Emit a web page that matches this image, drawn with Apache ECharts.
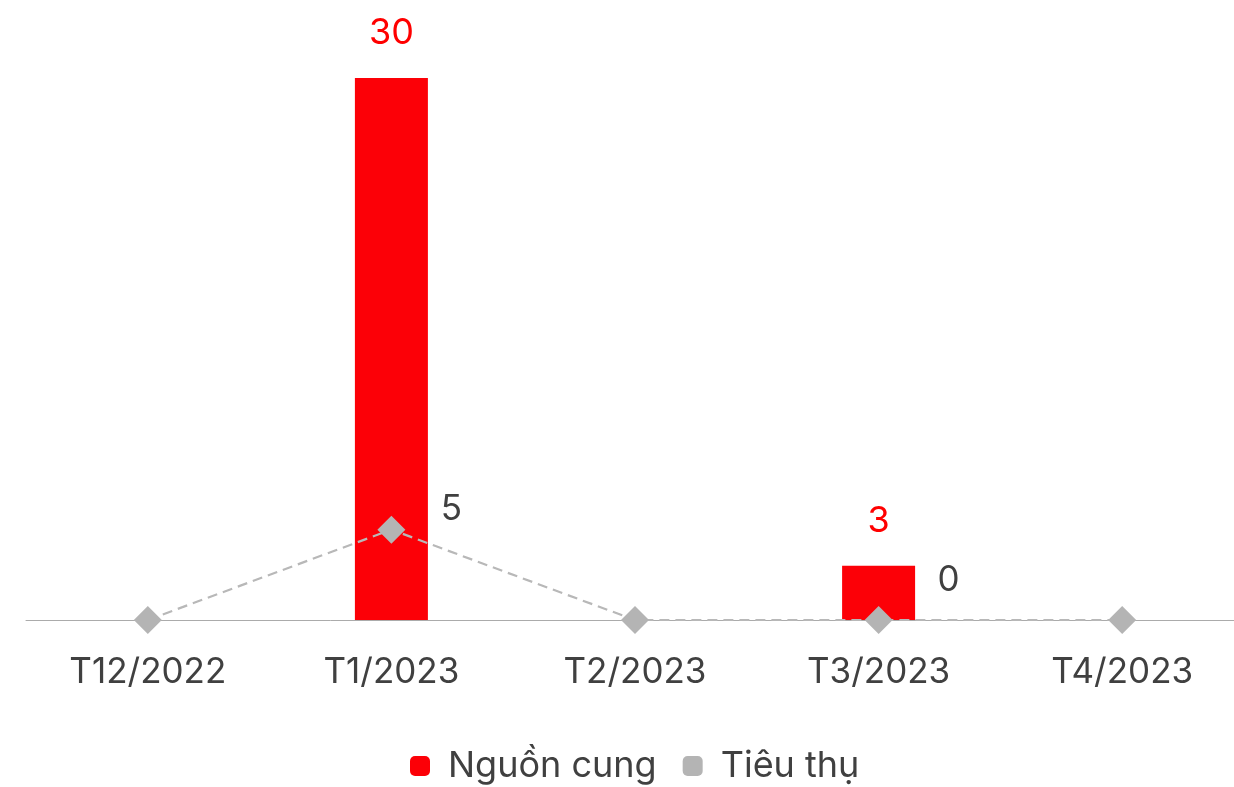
<!DOCTYPE html>
<html>
<head>
<meta charset="utf-8">
<script src="https://cdn.jsdelivr.net/npm/echarts@6/dist/echarts.min.js"></script>
<style>
  html, body { margin: 0; padding: 0; background: #fff; overflow: hidden; }
  #chart { width: 1244px; height: 787px; }
</style>
</head>
<body>
<div id="chart"></div>
<script>
// Monthly supply vs. consumption
const categories = ['T12/2022', 'T1/2023', 'T2/2023', 'T3/2023', 'T4/2023'];
const supply = [0, 30, 0, 3, 0];        // Nguồn cung
const consumption = [0, 5, 0, 0, 0];    // Tiêu thụ
// which points carry a value label
const supplyLabelShown = [false, true, false, true, false];
const consumptionLabelShown = [false, true, false, true, false];
const consumptionLabelOffset = [null, [60, -20], null, [70, -40], null];

const FONT = 'Inter, "Noto Sans", sans-serif';

const chart = echarts.init(document.getElementById('chart'), null, { renderer: 'canvas' });

chart.setOption({
  animation: false,
  textStyle: { fontFamily: FONT },
  grid: { left: 26, right: 0, top: 78, bottom: 167, containLabel: false },
  legend: {
    bottom: -2,
    left: 405,
    itemWidth: 20,
    itemHeight: 20,
    itemGap: 26,
    textStyle: { fontSize: 36, color: '#404040', fontFamily: FONT, padding: [0, 0, 0, 13] },
    data: [
      { name: 'Nguồn cung', icon: 'roundRect' },
      { name: 'Tiêu thụ', icon: 'roundRect' }
    ]
  },
  xAxis: {
    type: 'category',
    data: categories,
    axisLine: { lineStyle: { color: '#ababab', width: 1 } },
    axisTick: { show: false },
    axisLabel: { fontSize: 35, color: '#404040', margin: 35, fontFamily: FONT }
  },
  yAxis: {
    type: 'value',
    min: 0,
    max: 30,
    show: false,
    splitLine: { show: false }
  },
  series: [
    {
      name: 'Nguồn cung',
      type: 'bar',
      barWidth: 73,
      itemStyle: { color: '#fc0007' },
      data: supply.map((v, i) => ({
        value: v,
        label: {
          show: supplyLabelShown[i],
          position: 'top',
          distance: 27,
          fontSize: 36,
          color: '#ff0000',
          fontFamily: FONT
        }
      }))
    },
    {
      name: 'Tiêu thụ',
      type: 'line',
      symbol: 'diamond',
      symbolSize: 28,
      z: 5,
      lineStyle: { color: '#b8b8b8', width: 2.2, type: [10, 6] },
      itemStyle: { color: '#b4b4b4' },
      data: consumption.map((v, i) => ({
        value: v,
        label: {
          show: consumptionLabelShown[i],
          position: 'inside',
          offset: consumptionLabelOffset[i] || [0, 0],
          fontSize: 35,
          color: '#404040',
          fontFamily: FONT
        }
      }))
    }
  ]
});
</script>
</body>
</html>
